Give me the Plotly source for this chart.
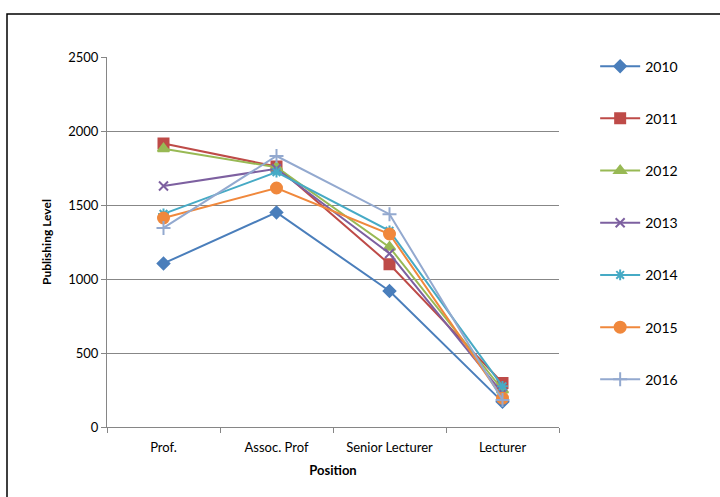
import plotly.graph_objects as go

categories = ["Prof.", "Assoc. Prof", "Senior Lecturer", "Lecturer"]
years = ["2010", "2011", "2012", "2013", "2014", "2015", "2016"]
v2010 = [1105, 1450, 919, 170]
v2011 = [1915, 1760, 1100, 298]
v2012 = [1880, 1755, 1215, 250]
v2013 = [1628, 1745, 1172, 228]
v2014 = [1440, 1722, 1325, 275]
v2015 = [1412, 1615, 1304, 195]
v2016 = [1345, 1831, 1438, 183]
yticks = [0, 500, 1000, 1500, 2000, 2500]

series = [v2010, v2011, v2012, v2013, v2014, v2015, v2016]
colors = ["#4A7EBB", "#BE4B48", "#98B954", "#7D60A0", "#46AAC5", "#F0883C", "#93A9CF"]
symbols = ["diamond", "square", "triangle-up", "x-thin-open", "asterisk-open", "circle", "cross-thin-open"]
sizes = [9, 10, 10, 9, 9, 11, 10]

font = "Lato, 'Open Sans', sans-serif"
fig = go.Figure()
for i, (yr, vals) in enumerate(zip(years, series)):
    fig.add_trace(go.Scatter(
        x=categories, y=vals, name=yr, mode="lines+markers",
        legendgroup=yr,
        line=dict(color=colors[i], width=2),
        marker=dict(symbol=symbols[i], size=sizes[i], color=colors[i],
                    line=dict(color=colors[i], width=2)),
    ))

fig.update_layout(
    width=720, height=497,
    margin=dict(l=107, r=161, t=57, b=70),
    paper_bgcolor="white", plot_bgcolor="white",
    font=dict(family=font, size=13, color="#000"),
    showlegend=True,
    legend=dict(x=1.08, y=1.0174, xanchor="left", yanchor="top",
                tracegroupgap=31, font=dict(size=14), itemwidth=40,
                maxheight=480, bgcolor="rgba(0,0,0,0)"),
    xaxis=dict(type="category", showgrid=False, showline=True, linecolor="#868686",
               linewidth=1, ticks="outside", tickson="boundaries", ticklen=5,
               tickcolor="#868686", tickfont=dict(size=13), automargin=False,
               ticklabelstandoff=8,
               title=dict(text="<b>Position</b>", font=dict(size=13), standoff=12),
               range=[-0.5, 3.5]),
    yaxis=dict(range=[0, 2500], tickvals=yticks, showgrid=True, gridcolor="#878787",
               gridwidth=1, showline=True, linecolor="#868686", linewidth=1,
               ticks="outside", ticklen=5, tickcolor="#868686", zeroline=False,
               tickfont=dict(size=13), automargin=False,
               title=dict(text="<b>Publishing Level</b>", font=dict(size=12), standoff=14)),
    shapes=[dict(type="rect", xref="paper", yref="paper",
                 x0=(7 - 107) / 452, x1=2.0, y0=-1.0, y1=(427 - 14) / 370,
                 line=dict(color="black", width=1.5), layer="below")],
)

fig.write_html("out.html", config={"displayModeBar": False},
               post_script="document.body.style.margin='0';")
